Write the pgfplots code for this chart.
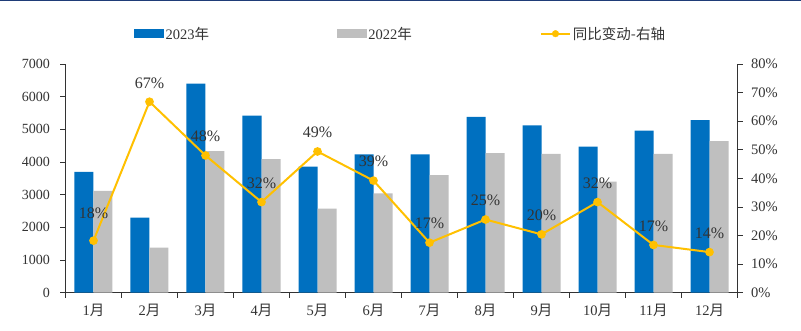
\documentclass[border=0pt]{standalone}
\usepackage{pgfplots}
\pgfplotsset{compat=1.18}
\usepackage{fontspec}
\setmainfont{Liberation Serif}
\newfontfamily\cjk{Noto Sans CJK SC}
\definecolor{cblue}{HTML}{0070C0}
\definecolor{cgray}{HTML}{BFBFBF}
\definecolor{cyel}{HTML}{FFC000}
\definecolor{ctext}{HTML}{333333}
\definecolor{cnavy}{HTML}{1F3C78}
\begin{document}
\begin{tikzpicture}
\useasboundingbox (-65.5pt,-38.3pt) rectangle (735.5pt,292.7pt);
\fill[cnavy] (-65.5pt,291.2pt) rectangle (735.5pt,292.7pt);
\begin{axis}[
  at={(0pt,0pt)}, anchor=south west,
  scale only axis, width=672pt, height=228.7pt,
  xmin=-0.5, xmax=11.5, ymin=0, ymax=7000,
  axis x line*=bottom, axis y line*=left,
  axis line style={draw=ctext, line width=0.8pt},
  xtick={0,...,11},
  xticklabels={1{\cjk 月},2{\cjk 月},3{\cjk 月},4{\cjk 月},5{\cjk 月},6{\cjk 月},7{\cjk 月},8{\cjk 月},9{\cjk 月},10{\cjk 月},11{\cjk 月},12{\cjk 月}},
  major x tick style={draw=none},
  minor xtick={-0.5,0.5,...,11.5},
  minor tick length=5pt,
  minor x tick style={draw=ctext, line width=0.8pt},
  ytick={0,1000,...,7000},
  major tick length=5pt,
  tick align=outside,
  y tick style={draw=ctext, line width=0.8pt},
  /pgf/number format/assume math mode=true,
  yticklabel style={/pgf/number format/1000 sep={}, font=\fontsize{14}{16}\selectfont, text=ctext, xshift=-7pt},
  xticklabel style={font=\fontsize{14.5}{16}\selectfont, text=ctext, yshift=-3pt},
  ybar, bar width=19pt,
]
\addplot[fill=cblue, draw=none, bar shift=-9.5pt] coordinates {
(0,3700) (1,2300) (2,6400) (3,5420) (4,3860) (5,4230) (6,4230) (7,5380) (8,5120) (9,4470) (10,4960) (11,5280)};
\addplot[fill=cgray, draw=none, bar shift=9.5pt] coordinates {
(0,3120) (1,1380) (2,4330) (3,4090) (4,2570) (5,3040) (6,3600) (7,4270) (8,4250) (9,3400) (10,4250) (11,4640)};
\end{axis}
\begin{axis}[
  at={(0pt,0pt)}, anchor=south west,
  scale only axis, width=672pt, height=228.7pt,
  xmin=-0.5, xmax=11.5, ymin=0, ymax=80,
  axis x line=none, axis y line*=right,
  axis line style={draw=ctext, line width=0.8pt},
  ytick={0,10,...,80},
  yticklabel={\pgfmathprintnumber{\tick}\%},
  major tick length=5pt,
  tick align=outside,
  y tick style={draw=ctext, line width=0.8pt},
  /pgf/number format/assume math mode=true,
  yticklabel style={font=\fontsize{14.5}{16}\selectfont, text=ctext, xshift=5pt},
  legend style={at={(68.5pt,259pt)}, anchor=west, draw=none, fill=none,
     inner sep=0pt,
     legend columns=3, font=\fontsize{14.5}{16}\selectfont, text=ctext,
     /tikz/every odd column/.append style={column sep=0pt},
     /tikz/every even column/.append style={column sep=126pt},
     nodes={inner xsep=2pt, inner ysep=1pt}},
]
\addlegendimage{legend image code/.code={\fill[cblue] (0pt,-4pt) rectangle (29pt,4pt);}}
\addlegendentry{2023{\cjk 年}}
\addlegendimage{legend image code/.code={\fill[cgray] (0pt,-4pt) rectangle (29pt,4pt);}}
\addlegendentry{2022{\cjk 年}}
\addlegendimage{legend image code/.code={\draw[cyel, line width=2pt] (0pt,0pt) -- (29pt,0pt); \fill[cyel] (14.5pt,0pt) circle (3.3pt);}}
\addlegendentry{{\cjk 同比变动-右轴}}
\addplot[cyel, line width=2pt, mark=*, mark size=3.3pt, mark options={fill=cyel, draw=cyel},
  nodes near coords, point meta=explicit symbolic,
  visualization depends on={value \thisrow{s}\as\s},
  every node near coord/.append style={anchor=center, yshift=\s, font=\fontsize{16}{18}\selectfont, text=ctext}]
  table[x=x, y=y, meta=lab] {
x y lab s
0 18.2 18\% 27pt
1 66.8 67\% 18pt
2 48.0 48\% 19pt
3 31.7 32\% 19pt
4 49.4 49\% 19pt
5 39.2 39\% 19pt
6 17.5 17\% 19pt
7 25.6 25\% 19pt
8 20.4 20\% 19pt
9 31.7 32\% 19pt
10 16.7 17\% 19pt
11 14.2 14\% 19pt
};
\end{axis}
\end{tikzpicture}
\end{document}
